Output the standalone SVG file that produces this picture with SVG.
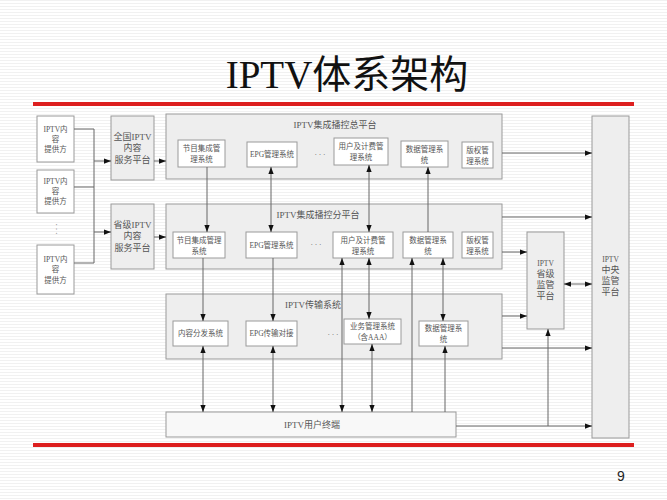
<svg xmlns="http://www.w3.org/2000/svg" width="667" height="500" viewBox="0 0 667 500">
<defs>
<pattern id="stripes" width="8" height="3" patternUnits="userSpaceOnUse">
<rect width="8" height="3" fill="#ffffff"/>
<rect width="8" height="1" fill="#f1f1f1"/>
</pattern>
<marker id="ah" viewBox="0 0 8 6" refX="8" refY="3" markerWidth="7" markerHeight="5.5" markerUnits="userSpaceOnUse" orient="auto-start-reverse">
<path d="M0,0 L8,3 L0,6 z" fill="#111"/>
</marker>
<style>
.t{font-family:"Liberation Serif","Noto Sans CJK SC",serif;fill:#555;text-anchor:middle;dominant-baseline:central}
.s{font-size:7.5px}
.m{font-size:9px}
.box{fill:#ffffff;stroke:#9a9a9a;stroke-width:1}
.gbox{fill:#eeeeee;stroke:#9a9a9a;stroke-width:1}
.con{fill:none;stroke:#666;stroke-width:1}
.red{stroke:#dd1f1f;stroke-width:4}
</style>
</defs>
<rect width="667" height="500" fill="url(#stripes)"/>
<text x="347" y="88" font-family="Liberation Serif,'Noto Sans CJK SC',serif" font-size="39" fill="#111" text-anchor="middle">IPTV体系架构</text>
<line class="red" x1="33" y1="104" x2="634" y2="104"/>
<line class="red" x1="33" y1="445" x2="634" y2="445"/>

<g id="provider1"><rect class="box" x="37" y="116" width="37" height="46"/><text class="t s" x="55.5" y="129">IPTV内</text><text class="t s" x="55.5" y="139">容</text><text class="t s" x="55.5" y="149">提供方</text></g>
<g id="provider2"><rect class="box" x="37" y="170" width="37" height="43"/><text class="t s" x="55.5" y="181">IPTV内</text><text class="t s" x="55.5" y="191">容</text><text class="t s" x="55.5" y="201">提供方</text></g>
<g id="providerDots"><text class="t s" x="56" y="229" transform="rotate(90 56 229)">· · ·</text></g>
<g id="provider3"><rect class="box" x="37" y="245" width="37" height="49"/><text class="t s" x="55.5" y="259">IPTV内</text><text class="t s" x="55.5" y="269">容</text><text class="t s" x="55.5" y="280">提供方</text></g>

<g id="nationalContent"><rect class="gbox" x="111" y="116" width="43" height="64"/><text class="t m" x="132.5" y="137">全国IPTV</text><text class="t m" x="132.5" y="148">内容</text><text class="t m" x="132.5" y="160">服务平台</text></g>
<g id="provincialContent"><rect class="gbox" x="111" y="204" width="43" height="65"/><text class="t m" x="132.5" y="225">省级IPTV</text><text class="t m" x="132.5" y="236">内容</text><text class="t m" x="132.5" y="248">服务平台</text></g>

<g id="headPlatform"><rect class="gbox" x="166" y="114" width="336" height="65"/><text class="t m" x="335" y="125">IPTV集成播控总平台</text>
<rect class="box" x="178" y="140" width="47" height="27"/><text class="t s" x="201.5" y="148">节目集成管</text><text class="t s" x="201.5" y="159">理系统</text>
<rect class="box" x="247" y="142" width="50" height="25"/><text class="t s" x="272" y="154.5">EPG管理系统</text>
<text class="t s" x="320" y="154">· · ·</text>
<rect class="box" x="334" y="138" width="54" height="27"/><text class="t s" x="361" y="146">用户及计费管</text><text class="t s" x="361" y="157">理系统</text>
<rect class="box" x="401" y="141" width="47" height="26"/><text class="t s" x="424.5" y="149">数据管理系</text><text class="t s" x="424.5" y="160">统</text>
<rect class="box" x="462" y="142" width="31" height="26"/><text class="t s" x="477.5" y="150">版权管</text><text class="t s" x="477.5" y="161">理系统</text></g>

<g id="subPlatform"><rect class="gbox" x="166" y="204" width="336" height="65"/><text class="t m" x="318" y="215">IPTV集成播控分平台</text>
<rect class="box" x="173" y="232" width="52" height="26"/><text class="t s" x="199" y="240">节目集成管理</text><text class="t s" x="199" y="251">系统</text>
<rect class="box" x="246" y="232" width="51" height="26"/><text class="t s" x="271.5" y="245">EPG管理系统</text>
<text class="t s" x="316" y="244">· · ·</text>
<rect class="box" x="333" y="232" width="60" height="26"/><text class="t s" x="363" y="240">用户及计费管</text><text class="t s" x="363" y="251">理系统</text>
<rect class="box" x="403" y="232" width="50" height="26"/><text class="t s" x="428" y="240">数据管理系</text><text class="t s" x="428" y="251">统</text>
<rect class="box" x="462" y="232" width="31" height="26"/><text class="t s" x="477.5" y="240">版权管</text><text class="t s" x="477.5" y="251">理系统</text></g>

<g id="transport"><rect class="gbox" x="166" y="294" width="336" height="65"/><text class="t m" x="313" y="305">IPTV传输系统</text>
<rect class="box" x="173" y="321" width="55" height="25"/><text class="t s" x="200.5" y="333.5">内容分发系统</text>
<rect class="box" x="246" y="321" width="51" height="25"/><text class="t s" x="271.5" y="333.5">EPG传输对接</text>
<text class="t s" x="333" y="334">· · ·</text>
<rect class="box" x="344" y="319" width="57" height="25"/><text class="t s" x="372.5" y="326">业务管理系统</text><text class="t s" x="372.5" y="337">（含AAA）</text>
<rect class="box" x="419" y="321" width="49" height="25"/><text class="t s" x="443.5" y="328">数据管理系</text><text class="t s" x="443.5" y="339">统</text></g>

<g id="terminal"><rect class="box" x="166" y="412" width="290" height="25" style="fill:#f8f8f8"/><text class="t m" x="312" y="424.5">IPTV用户终端</text></g>
<g id="centralMonitor"><rect class="gbox" x="592" y="116" width="37" height="322"/><text class="t s" x="610.5" y="259">IPTV</text><text class="t m" x="610.5" y="270">中央</text><text class="t m" x="610.5" y="281">监管</text><text class="t m" x="610.5" y="292">平台</text></g>
<g id="provMonitor"><rect class="gbox" x="527" y="232" width="37" height="97"/><text class="t s" x="545.5" y="263">IPTV</text><text class="t m" x="545.5" y="274">省级</text><text class="t m" x="545.5" y="285">监管</text><text class="t m" x="545.5" y="296">平台</text></g>

<g id="connectors">
<path class="con" d="M74,129 H94 M74,187 H94 M74,263 H94 M94,129 V263"/>
<path class="con" d="M94,161 H111" marker-end="url(#ah)"/>
<path class="con" d="M94,232 H111" marker-end="url(#ah)"/>
<path class="con" d="M154,161 H166" marker-end="url(#ah)"/>
<path class="con" d="M154,237 H166" marker-end="url(#ah)"/>
<path class="con" d="M207,167 V232" marker-end="url(#ah)"/>
<path class="con" d="M271,167 V232" marker-start="url(#ah)" marker-end="url(#ah)"/>
<path class="con" d="M369,165 V232" marker-start="url(#ah)" marker-end="url(#ah)"/>
<path class="con" d="M428,232 V167" marker-end="url(#ah)"/>
<path class="con" d="M203,258 V321" marker-end="url(#ah)"/>
<path class="con" d="M273,258 V321" marker-end="url(#ah)"/>
<path class="con" d="M342,258 V412" marker-start="url(#ah)" marker-end="url(#ah)"/>
<path class="con" d="M369,258 V319" marker-start="url(#ah)" marker-end="url(#ah)"/>
<path class="con" d="M412,412 V258" marker-end="url(#ah)"/>
<path class="con" d="M443,258 V321" marker-start="url(#ah)" marker-end="url(#ah)"/>
<path class="con" d="M203,346 V412" marker-start="url(#ah)" marker-end="url(#ah)"/>
<path class="con" d="M273,346 V412" marker-start="url(#ah)" marker-end="url(#ah)"/>
<path class="con" d="M372,344 V412" marker-start="url(#ah)" marker-end="url(#ah)"/>
<path class="con" d="M445,412 V346" marker-end="url(#ah)"/>
<path class="con" d="M502,153 H592" marker-end="url(#ah)"/>
<path class="con" d="M502,217 H592" marker-end="url(#ah)"/>
<path class="con" d="M502,252 H527" marker-end="url(#ah)"/>
<path class="con" d="M564,284 H592" marker-start="url(#ah)" marker-end="url(#ah)"/>
<path class="con" d="M502,316 H527" marker-end="url(#ah)"/>
<path class="con" d="M502,348 H592" marker-end="url(#ah)"/>
<path class="con" d="M456,426 H592" marker-end="url(#ah)"/>
<path class="con" d="M548,426 V329" marker-end="url(#ah)"/>
</g>
<text x="621" y="481" font-family="Liberation Sans,Arial,sans-serif" font-size="14" fill="#222" text-anchor="middle">9</text>
</svg>
